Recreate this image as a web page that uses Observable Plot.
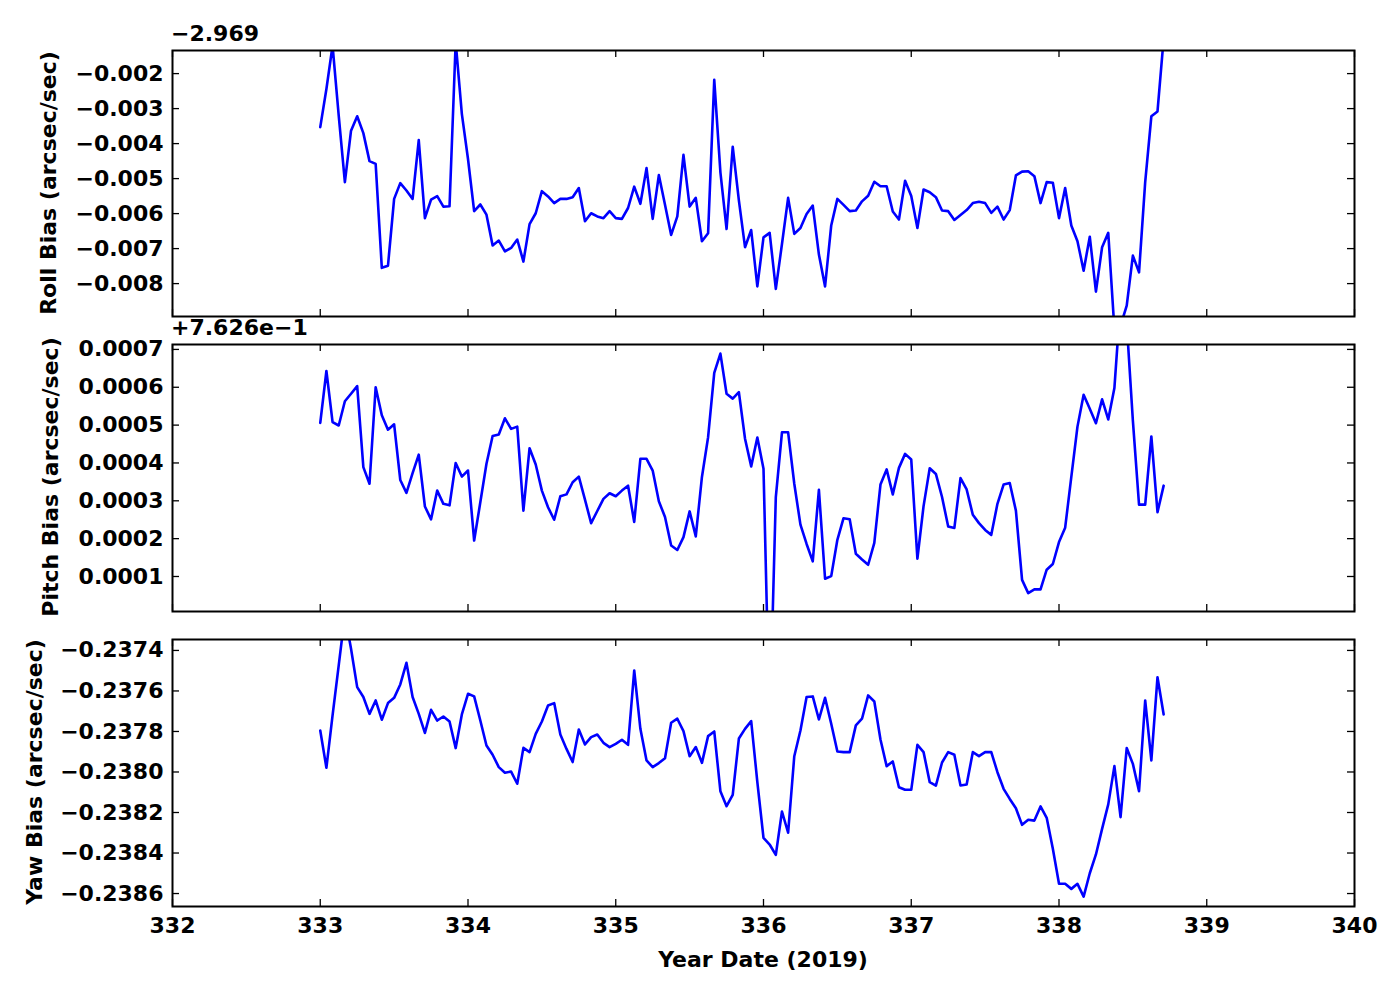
<!DOCTYPE html>
<html>
<head>
<meta charset="utf-8">
<script src="https://cdn.jsdelivr.net/npm/d3@7"></script>
<script src="https://cdn.jsdelivr.net/npm/@observablehq/plot@0.6"></script>
<style>
  body { margin: 0; background: #fff; }
  #fig { position: relative; width: 1400px; height: 1000px; background: #fff; overflow: hidden;
         font-family: "DejaVu Sans", sans-serif; font-weight: bold; color: #000; }
  .panel { position: absolute; left: 0; }
  .lab { position: absolute; font-size: 22px; line-height: 22px; font-weight: bold; white-space: nowrap; }
  .ylab { position: absolute; font-size: 22px; line-height: 22px; font-weight: bold; white-space: nowrap;
          transform: translate(-50%, -50%) rotate(-90deg); }
  .xlab { position: absolute; font-size: 22px; line-height: 22px; font-weight: bold; white-space: nowrap;
          transform: translate(-50%, -50%); }
</style>
</head>
<body>
<div id="fig"></div>
<script>
// ---- data (hourly samples, Year Date 2019) ----
const startDay = 333.0;
const stepDays = 1 / 24;

const rollOffsetText = "\u22122.969";
const pitchOffsetText = "+7.626e\u22121";

// Roll bias with offset −2.969 removed (arcsec/sec)
const rollBias = [
-0.00353, -0.00244, -0.00120, -0.00320, -0.00510, -0.00363, -0.00322, -0.00370, -0.00450, -0.00458,
-0.00755, -0.00749, -0.00558, -0.00513, -0.00534, -0.00558, -0.00390, -0.00613, -0.00560, -0.00550,
-0.00580, -0.00579, -0.00110, -0.00315, -0.00444, -0.00593, -0.00574, -0.00603, -0.00691, -0.00677,
-0.00708, -0.00698, -0.00674, -0.00737, -0.00630, -0.00599, -0.00536, -0.00551, -0.00570, -0.00558,
-0.00558, -0.00553, -0.00527, -0.00622, -0.00599, -0.00608, -0.00613, -0.00593, -0.00613, -0.00615,
-0.00584, -0.00523, -0.00572, -0.00470, -0.00615, -0.00490, -0.00575, -0.00661, -0.00608, -0.00432,
-0.00580, -0.00555, -0.00679, -0.00656, -0.00218, -0.00482, -0.00644, -0.00409, -0.00562, -0.00696,
-0.00647, -0.00808, -0.00668, -0.00655, -0.00815, -0.00687, -0.00555, -0.00658, -0.00641, -0.00601,
-0.00577, -0.00717, -0.00808, -0.00634, -0.00558, -0.00575, -0.00593, -0.00591, -0.00565, -0.00549,
-0.00509, -0.00522, -0.00522, -0.00594, -0.00617, -0.00506, -0.00550, -0.00641, -0.00531, -0.00539,
-0.00553, -0.00591, -0.00593, -0.00618, -0.00604, -0.00590, -0.00570, -0.00566, -0.00570, -0.00598,
-0.00580, -0.00617, -0.00590, -0.00491, -0.00480, -0.00479, -0.00493, -0.00570, -0.00510, -0.00512,
-0.00613, -0.00527, -0.00634, -0.00679, -0.00763, -0.00666, -0.00823, -0.00696, -0.00655, -0.00930,
-0.00920, -0.00863, -0.00720, -0.00768, -0.00510, -0.00322, -0.00308, -0.00100
];

// Pitch bias with offset +0.7626 removed (arcsec/sec)
const pitchBias = [
0.000506, 0.000643, 0.000508, 0.000499, 0.000563, 0.000583, 0.000603, 0.000389, 0.000345, 0.000600,
0.000526, 0.000488, 0.000502, 0.000355, 0.000321, 0.000373, 0.000422, 0.000285, 0.000251, 0.000327,
0.000292, 0.000288, 0.000400, 0.000364, 0.000380, 0.000195, 0.000296, 0.000398, 0.000471, 0.000475,
0.000518, 0.000490, 0.000496, 0.000274, 0.000439, 0.000396, 0.000327, 0.000283, 0.000250, 0.000312,
0.000317, 0.000349, 0.000364, 0.000303, 0.000241, 0.000273, 0.000305, 0.000320, 0.000312, 0.000327,
0.000340, 0.000244, 0.000411, 0.000411, 0.000380, 0.000299, 0.000257, 0.000182, 0.000170, 0.000204,
0.000272, 0.000206, 0.000363, 0.000468, 0.000638, 0.000689, 0.000583, 0.000570, 0.000587, 0.000464,
0.000391, 0.000467, 0.000385, -0.000300, 0.000310, 0.000481, 0.000481, 0.000345, 0.000237, 0.000186,
0.000140, 0.000329, 0.000094, 0.000101, 0.000197, 0.000254, 0.000251, 0.000160, 0.000145, 0.000131,
0.000189, 0.000343, 0.000383, 0.000317, 0.000387, 0.000424, 0.000409, 0.000147, 0.000286, 0.000386,
0.000371, 0.000310, 0.000232, 0.000228, 0.000360, 0.000330, 0.000263, 0.000241, 0.000223, 0.000210,
0.000292, 0.000343, 0.000347, 0.000274, 0.000091, 0.000056, 0.000066, 0.000066, 0.000118, 0.000133,
0.000191, 0.000229, 0.000363, 0.000496, 0.000580, 0.000543, 0.000505, 0.000568, 0.000515, 0.000598,
0.000830, 0.000770, 0.000512, 0.000290, 0.000290, 0.000470, 0.000270, 0.000340
];

// Yaw bias (arcsec/sec)
const yawBias = [
-0.237795, -0.237979, -0.237721, -0.237474, -0.237224, -0.237392, -0.237581, -0.237630, -0.237713, -0.237647,
-0.237742, -0.237660, -0.237634, -0.237568, -0.237461, -0.237630, -0.237713, -0.237807, -0.237693, -0.237746,
-0.237726, -0.237751, -0.237882, -0.237716, -0.237614, -0.237627, -0.237746, -0.237869, -0.237915, -0.237976,
-0.238004, -0.237998, -0.238058, -0.237881, -0.237902, -0.237812, -0.237751, -0.237672, -0.237660, -0.237815,
-0.237886, -0.237951, -0.237790, -0.237864, -0.237828, -0.237815, -0.237856, -0.237877, -0.237861, -0.237841,
-0.237866, -0.237499, -0.237787, -0.237943, -0.237976, -0.237956, -0.237932, -0.237757, -0.237737, -0.237798,
-0.237922, -0.237877, -0.237955, -0.237823, -0.237800, -0.238095, -0.238169, -0.238113, -0.237835, -0.237787,
-0.237749, -0.238050, -0.238325, -0.238358, -0.238409, -0.238195, -0.238300, -0.237922, -0.237795, -0.237630,
-0.237627, -0.237741, -0.237634, -0.237762, -0.237899, -0.237902, -0.237902, -0.237770, -0.237737, -0.237622,
-0.237652, -0.237840, -0.237971, -0.237948, -0.238075, -0.238088, -0.238088, -0.237866, -0.237902, -0.238050,
-0.238067, -0.237953, -0.237902, -0.237915, -0.238067, -0.238062, -0.237902, -0.237922, -0.237902, -0.237902,
-0.238001, -0.238083, -0.238133, -0.238179, -0.238261, -0.238236, -0.238240, -0.238170, -0.238226, -0.238379,
-0.238552, -0.238552, -0.238577, -0.238552, -0.238615, -0.238500, -0.238407, -0.238281, -0.238160, -0.237971,
-0.238223, -0.237882, -0.237960, -0.238095, -0.237647, -0.237943, -0.237532, -0.237716
];

const xTicks = [332, 333, 334, 335, 336, 337, 338, 339, 340];
const rollTicks = [-0.008, -0.007, -0.006, -0.005, -0.004, -0.003, -0.002];
const pitchTicks = [0.0001, 0.0002, 0.0003, 0.0004, 0.0005, 0.0006, 0.0007];
const yawTicks = [-0.2386, -0.2384, -0.2382, -0.2380, -0.2378, -0.2376, -0.2374];

const rollDomain = [-0.00894, -0.00134];
const pitchDomain = [0.0000075, 0.000713];
const yawDomain = [-0.238664, -0.237346];

// ---- build ----
const rows = rollBias.map((r, i) => ({
  t: startDay + i * stepDays,
  roll: r, pitch: pitchBias[i], yaw: yawBias[i]
}));

const fig = document.getElementById("fig");
const W = 1400, ML = 172, MR = 46;
const FONT = {fontFamily: "DejaVu Sans, sans-serif", fontSize: "22px", fontWeight: "bold", color: "#000", background: "transparent"};

function panel({top, height, mt, mb, key, domain, ticks, fmt, showX}) {
  const innerH = height - mt - mb;
  const innerW = W - ML - MR;
  const TL = 7;
  const marks = [
    Plot.line(rows, {x: "t", y: key, stroke: "#0000ff", strokeWidth: 2.6, clip: true}),
    Plot.tickX(xTicks, {x: d => d, stroke: "#000", strokeWidth: 1.3, insetBottom: innerH - TL}),
    Plot.tickX(xTicks, {x: d => d, stroke: "#000", strokeWidth: 1.3, insetTop: innerH - TL}),
    Plot.tickY(ticks, {y: d => d, stroke: "#000", strokeWidth: 1.3, insetRight: innerW - TL}),
    Plot.tickY(ticks, {y: d => d, stroke: "#000", strokeWidth: 1.3, insetLeft: innerW - TL}),
    Plot.axisY(ticks, {tickSize: 0, tickPadding: 9, tickFormat: fmt, label: null,
                       fontSize: 22, fontWeight: "bold", fill: "#000"}),
    Plot.frame({stroke: "#000", strokeWidth: 2})
  ];
  if (showX) {
    marks.push(Plot.axisX(xTicks, {tickSize: 0, tickPadding: 11, tickFormat: d => String(d), label: null,
                                   fontSize: 22, fontWeight: "bold", fill: "#000"}));
  }
  const svg = Plot.plot({
    width: W, height,
    marginLeft: ML, marginRight: MR, marginTop: mt, marginBottom: mb,
    style: FONT,
    x: {domain: [332, 340], axis: showX ? undefined : null},
    y: {domain},
    marks
  });
  svg.classList.add("panel");
  svg.style.top = top + "px";
  svg.style.position = "absolute";
  svg.style.left = "0px";
  fig.appendChild(svg);
}

panel({top: 0, height: 330, mt: 50, mb: 14, key: "roll", domain: rollDomain, ticks: rollTicks,
       fmt: d3.format(".3f"), showX: false});
panel({top: 330, height: 295, mt: 14, mb: 14, key: "pitch", domain: pitchDomain, ticks: pitchTicks,
       fmt: d3.format(".4f"), showX: false});
panel({top: 625, height: 375, mt: 14, mb: 94, key: "yaw", domain: yawDomain, ticks: yawTicks,
       fmt: d3.format(".4f"), showX: true});

function addDiv(cls, text, left, top) {
  const d = document.createElement("div");
  d.className = cls;
  d.textContent = text;
  d.style.left = left + "px";
  d.style.top = top + "px";
  fig.appendChild(d);
}
addDiv("lab", rollOffsetText, 171, 23);
addDiv("lab", pitchOffsetText, 171, 317);
addDiv("ylab", "Roll Bias (arcsec/sec)", 49, 183);
addDiv("ylab", "Pitch Bias (arcsec/sec)", 51, 477);
addDiv("ylab", "Yaw Bias (arcsec/sec)", 35, 772);
addDiv("xlab", "Year Date (2019)", 763, 960);
</script>
</body>
</html>
